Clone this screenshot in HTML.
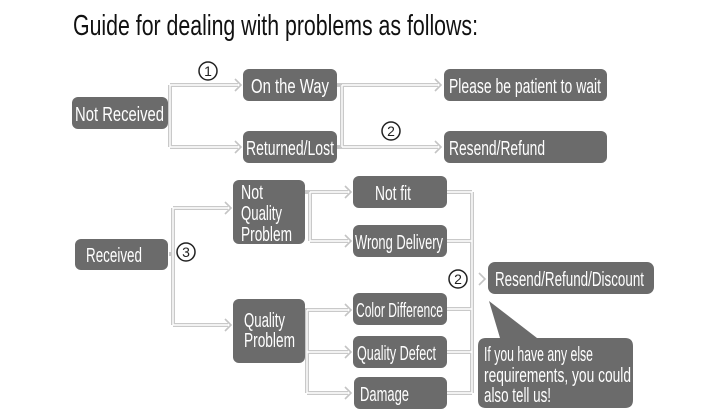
<!DOCTYPE html>
<html><head><meta charset="utf-8"><style>
html,body{margin:0;padding:0;background:#fff;width:721px;height:418px;overflow:hidden}
svg{display:block}
text{font-family:"Liberation Sans",sans-serif}
.b{fill:#6b6b6b}
.t{fill:#fff;font-size:20px}
.l1{stroke:#c9c9c9;stroke-width:4;fill:none}
.l2{stroke:#fff;stroke-width:1.4;fill:none}
.ar{stroke:#c4c4c4;stroke-width:1.6;fill:none}
</style></head><body>
<svg width="721" height="418" viewBox="0 0 721 418">
<text x="73" y="35" font-size="29" fill="#111" textLength="405" lengthAdjust="spacingAndGlyphs">Guide for dealing with problems as follows:</text>

<g id="lines">
<path class="l1" d="M168 113H170M170 85V147M170 85H238M170 147H238 M337 85H342V147M342 85H438M337 147H438 M169 254H173M173 208V325M173 208H228M173 325H228 M305 192H310V241M310 192H348M310 241H348 M305 310H307V393M307 310H348M307 352H348M307 393H348 M447 192H472M447 241H472M447 309H472M447 352H472M447 393H472M472 192V393"/>
<path class="l2" d="M170 85V147M170 85H238M170 147H238 M342 85V147M342 85H438M342 147H438 M173 208V325M173 208H228M173 325H228 M310 192V241M310 192H348M310 241H348 M307 310V393M307 310H348M307 352H348M307 393H348 M447 192H472M447 241H472M447 309H472M447 352H472M447 393H472M472 192V393"/>
<path class="ar" d="M235 79l6 6-6 6M435 79l6 6-6 6M235 141l6 6-6 6M435 141l6 6-6 6M225 202l6 6-6 6M225 319l6 6-6 6M345 186l6 6-6 6M345 235l6 6-6 6M345 304l6 6-6 6M345 346l6 6-6 6M345 387l6 6-6 6M479 273l6 6-6 6"/>
</g>

<rect class="b" x="72" y="97" width="96" height="32" rx="6"/>
<text class="t" x="75" y="121" textLength="89" lengthAdjust="spacingAndGlyphs">Not Received</text>
<rect class="b" x="243" y="69" width="94" height="32" rx="6"/>
<text class="t" x="251" y="93" textLength="78" lengthAdjust="spacingAndGlyphs">On the Way</text>
<rect class="b" x="243" y="131" width="94" height="32" rx="6"/>
<text class="t" x="246" y="155" textLength="88" lengthAdjust="spacingAndGlyphs">Returned/Lost</text>
<rect class="b" x="444" y="69" width="163" height="32" rx="6"/>
<text class="t" x="449" y="93" textLength="152" lengthAdjust="spacingAndGlyphs">Please be patient to wait</text>
<rect class="b" x="444" y="131" width="163" height="32" rx="6"/>
<text class="t" x="449" y="155" textLength="96" lengthAdjust="spacingAndGlyphs">Resend/Refund</text>

<rect class="b" x="75" y="239" width="93" height="31" rx="6"/>
<text class="t" x="86" y="262" textLength="56" lengthAdjust="spacingAndGlyphs">Received</text>
<rect class="b" x="233" y="180" width="72" height="64" rx="6"/>
<text class="t" x="241" y="199" textLength="22" lengthAdjust="spacingAndGlyphs">Not</text>
<text class="t" x="241" y="220" textLength="41" lengthAdjust="spacingAndGlyphs">Quality</text>
<text class="t" x="241" y="241" textLength="51" lengthAdjust="spacingAndGlyphs">Problem</text>
<rect class="b" x="233" y="299" width="72" height="64" rx="6"/>
<text class="t" x="244" y="327" textLength="41" lengthAdjust="spacingAndGlyphs">Quality</text>
<text class="t" x="244" y="347" textLength="51" lengthAdjust="spacingAndGlyphs">Problem</text>

<rect class="b" x="353" y="176" width="94" height="32" rx="6"/>
<text class="t" x="375" y="200" textLength="36" lengthAdjust="spacingAndGlyphs">Not fit</text>
<rect class="b" x="353" y="225" width="94" height="32" rx="6"/>
<text class="t" x="355" y="249" textLength="88" lengthAdjust="spacingAndGlyphs">Wrong Delivery</text>
<rect class="b" x="353" y="293" width="94" height="32" rx="6"/>
<text class="t" x="356" y="317" textLength="87" lengthAdjust="spacingAndGlyphs">Color Difference</text>
<rect class="b" x="353" y="336" width="94" height="32" rx="6"/>
<text class="t" x="357" y="360" textLength="79" lengthAdjust="spacingAndGlyphs">Quality Defect</text>
<rect class="b" x="354" y="377" width="93" height="32" rx="6"/>
<text class="t" x="360" y="401" textLength="49" lengthAdjust="spacingAndGlyphs">Damage</text>

<rect class="b" x="488" y="262" width="166" height="32" rx="7"/>
<text class="t" x="495" y="286" textLength="149" lengthAdjust="spacingAndGlyphs">Resend/Refund/Discount</text>

<path class="b" d="M489 301L537 338H625Q633 338 633 346V400Q633 408 625 408H486Q478 408 478 400V346Q478 338 486 338H500Z"/>
<text class="t" x="484" y="361" textLength="109" lengthAdjust="spacingAndGlyphs">If you have any else</text>
<text class="t" x="484" y="382" textLength="147" lengthAdjust="spacingAndGlyphs">requirements, you could</text>
<text class="t" x="484" y="402" textLength="67" lengthAdjust="spacingAndGlyphs">also tell us!</text>

<g fill="none" stroke="#222" stroke-width="1.5">
<circle cx="208" cy="71" r="9"/><circle cx="391" cy="131" r="9"/><circle cx="186" cy="252" r="9"/><circle cx="458" cy="279" r="9"/>
</g>
<g font-size="14" fill="#222" text-anchor="middle">
<text x="208" y="76">1</text><text x="391" y="136">2</text><text x="186" y="257">3</text><text x="458" y="284">2</text>
</g>
</svg>
</body></html>
